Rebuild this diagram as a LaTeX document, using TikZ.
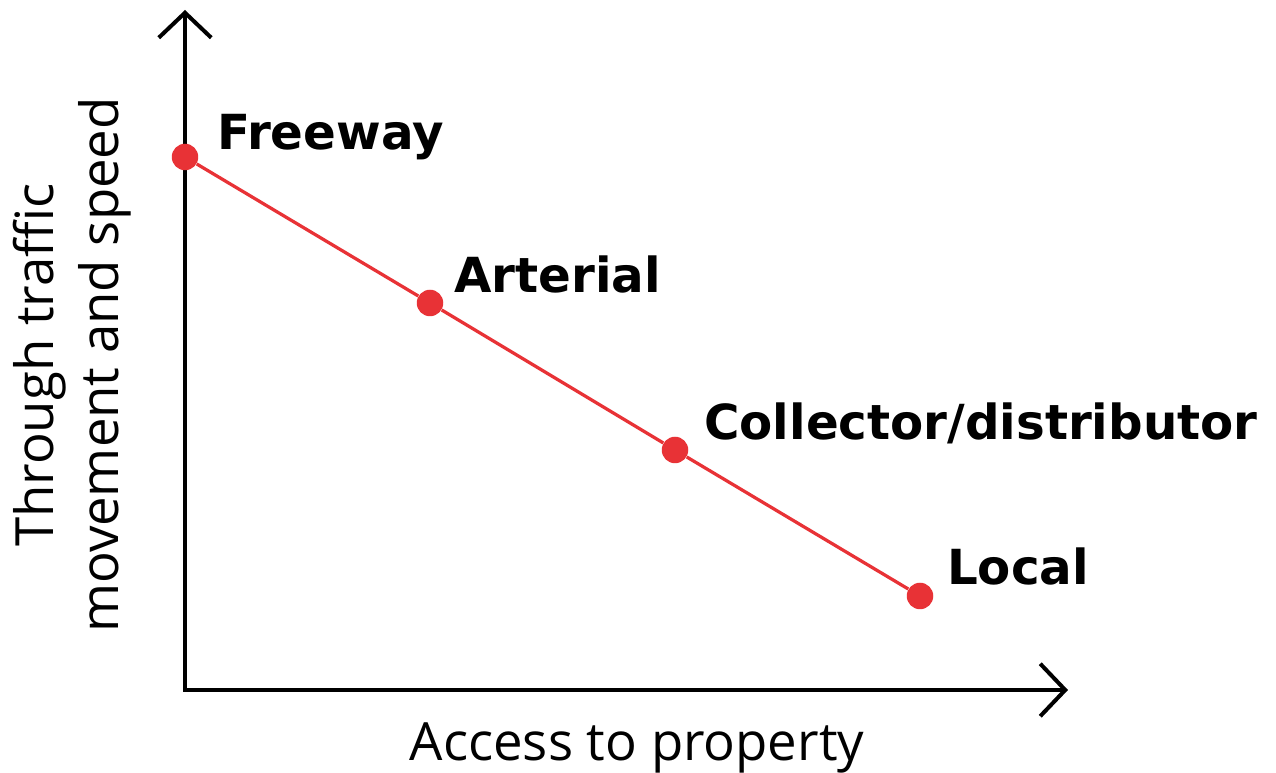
\documentclass[tikz,border=0pt]{standalone}
\usepackage{fontspec}
\setmainfont{DejaVu Sans}
\newfontfamily\axisfont{Open Sans}
\usetikzlibrary{arrows.meta, positioning}

\definecolor{roadred}{RGB}{232,50,54}

\tikzset{
    axis/.style={line width=0.08cm, line join=miter,
        {Straight Barb[length=0.5cm, width=1.05cm, line width=0.08cm]}-{Straight Barb[length=0.5cm, width=1.05cm, line width=0.08cm]}},
    roadline/.style={roadred, line width=0.065cm},
    dot/.style={circle, fill=roadred, minimum size=0.53cm, inner sep=0pt},
    roadlabel/.style={anchor=base west, font=\bfseries\fontsize{27.5}{33}\selectfont},
    axislabel/.style={font=\axisfont\fontsize{30}{37}\selectfont, align=center}
}

\begin{document}
\begin{tikzpicture}[x=0.02cm, y=0.02cm]
    \useasboundingbox (0,0) rectangle (1276,773);
    %% axes
    \coordinate (o) at (185,83);
    \coordinate (ytip) at (185,763);
    \coordinate (xtip) at (1068,83);
    \draw[axis] (ytip) -- (o) -- (xtip);
    %% road classes
    \node[dot] (fw) at (185,616) {};
    \node[dot] (art) at (430,470) {};
    \node[dot] (col) at (675,323) {};
    \node[dot] (loc) at (920,177) {};
    % join the classes
    \draw[roadline] (fw) -- (art) -- (col) -- (loc);
    %% labels
    \node[roadlabel] (fwlbl) at ([shift={(26,7)}]fw.center) {Freeway};
    \node[roadlabel] (artlbl) at ([shift={(18,10)}]art.center) {Arterial};
    \node[roadlabel] (collbl) at ([shift={(23,10)}]col.center) {Collector/distributor};
    \node[roadlabel] (loclbl) at ([shift={(21,11)}]loc.center) {Local};
    % axis titles
    \node[axislabel, rotate=90] (ylbl) at (72,408) {Through traffic\\movement and speed};
    \node[axislabel] (xlbl) at (637,25) {Access to property};
\end{tikzpicture}
\end{document}
